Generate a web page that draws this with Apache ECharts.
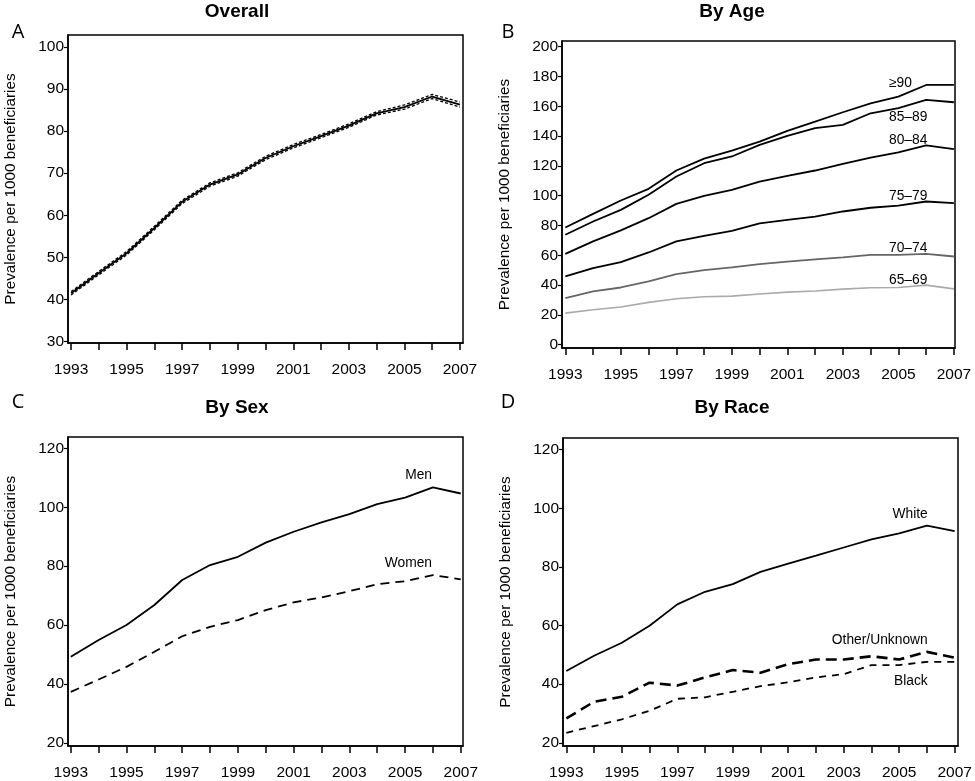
<!DOCTYPE html>
<html>
<head>
<meta charset="utf-8">
<script src="https://cdn.jsdelivr.net/npm/echarts@6/dist/echarts.min.js"></script>
<style>
html,body{margin:0;padding:0;background:#fff;}
#chart{width:975px;height:781px;}
</style>
</head>
<body>
<div id="chart"></div>
<script>
// ---------------- DATA ----------------
var years = [1993,1994,1995,1996,1997,1998,1999,2000,2001,2002,2003,2004,2005,2006,2007];
var xTickYears = [1993,1994,1995,1996,1997,1998,1999,2000,2001,2002,2003,2004,2005,2006,2007];
var xLabelYears = [1993,1995,1997,1999,2001,2003,2005,2007];

// Panel A: overall with confidence bounds
var overall      = [41.5, 46.3, 51.0, 57.0, 63.2, 67.3, 69.7, 73.6, 76.4, 78.8, 81.3, 84.2, 85.7, 88.2, 86.3];
var overallUpper = [41.9, 46.7, 51.4, 57.4, 63.6, 67.7, 70.1, 74.0, 76.8, 79.2, 81.7, 84.6, 86.2, 88.7, 86.9];
var overallLower = [41.1, 45.9, 50.6, 56.6, 62.8, 66.9, 69.3, 73.2, 76.0, 78.4, 80.9, 83.8, 85.2, 87.7, 85.7];
var ticksA = [30,40,50,60,70,80,90,100];

// Panel B: by age
var age90   = [78.7, 87.8, 96.8, 104.6, 116.9, 124.9, 130.3, 136.3, 143.5, 149.7, 156.0, 162.0, 166.5, 174.3, 174.3];
var age8589 = [73.8, 82.7, 90.5, 100.6, 112.9, 121.8, 126.3, 134.1, 140.1, 145.3, 147.5, 155.3, 158.7, 164.3, 162.7];
var age8084 = [61.0, 69.3, 76.7, 84.9, 94.5, 99.9, 103.9, 109.5, 113.3, 116.9, 121.4, 125.6, 129.0, 133.7, 131.2];
var age7579 = [45.8, 51.4, 55.4, 61.9, 69.3, 73.1, 76.4, 81.4, 83.8, 86.0, 89.4, 91.9, 93.4, 96.1, 95.0];
var age7074 = [31.3, 35.8, 38.4, 42.5, 47.4, 50.1, 51.9, 54.1, 55.7, 57.2, 58.6, 60.3, 60.3, 61.0, 59.2];
var age6569 = [21.2, 23.5, 25.3, 28.4, 30.8, 32.2, 32.6, 34.0, 35.3, 36.0, 37.3, 38.2, 38.4, 40.0, 37.5];
var ticksB = [0,20,40,60,80,100,120,140,160,180,200];
var ageLabels = ['\u226590','85\u201389','80\u201384','75\u201379','70\u201374','65\u201369'];

// Panel C: by sex
var men   = [49.2, 54.9, 60.0, 66.8, 75.3, 80.4, 83.2, 88.0, 91.7, 94.9, 97.7, 101.1, 103.3, 106.8, 104.7];
var women = [37.3, 41.5, 45.8, 50.9, 56.2, 59.4, 61.7, 65.1, 67.7, 69.4, 71.5, 73.9, 74.9, 77.0, 75.5];
var ticksCD = [20,40,60,80,100,120];

// Panel D: by race
var white = [44.5, 49.7, 54.1, 59.9, 67.2, 71.5, 74.1, 78.3, 81.1, 83.8, 86.6, 89.4, 91.4, 94.1, 92.2];
var other = [28.3, 34.0, 35.7, 40.5, 39.5, 42.3, 44.8, 43.9, 46.8, 48.4, 48.4, 49.5, 48.4, 51.0, 49.0];
var black = [23.4, 25.7, 28.0, 30.9, 35.0, 35.5, 37.4, 39.3, 40.6, 42.3, 43.4, 46.5, 46.5, 47.6, 47.6];

// ---------------- CHART ----------------
function pairs(vals){ return years.map(function(y,i){ return [y, vals[i]]; }); }

var FONT = '"Liberation Sans", Arial, sans-serif';
var AXNAME = 'Prevalence per 1000 beneficiaries';

function xAxisFor(gi, mn, mx){
  return {
    type:'value', gridIndex:gi, min:mn, max:mx,
    axisLine:{show:true, onZero:false, lineStyle:{color:'#000', width:1.5}},
    axisTick:{show:true, length:7, lineStyle:{color:'#000', width:1.5}, customValues:xTickYears},
    axisLabel:{color:'#000', fontSize:15.5, fontFamily:FONT, margin:19, customValues:xLabelYears,
      formatter:function(v){ return String(Math.round(v)); }},
    splitLine:{show:false}
  };
}
function yAxisFor(gi, mn, mx, ticks){
  return {
    type:'value', gridIndex:gi, min:mn, max:mx,
    name:AXNAME, nameLocation:'middle', nameGap:50,
    nameTextStyle:{color:'#000', fontSize:15.3, fontFamily:FONT},
    axisLine:{show:true, onZero:false, lineStyle:{color:'#000', width:1.5}},
    axisTick:{show:true, length:4, lineStyle:{color:'#000', width:1.2}, customValues:ticks},
    axisLabel:{color:'#000', fontSize:15.5, fontFamily:FONT, margin:4, customValues:ticks,
      formatter:function(v){ return String(Math.round(v)); }},
    splitLine:{show:false}
  };
}
function line(gi, vals, opts){
  return {
    type:'line', xAxisIndex:gi, yAxisIndex:gi, data:pairs(vals),
    showSymbol:false, symbol:'none', silent:true, animation:false,
    lineStyle:{color:opts.color||'#000', width:opts.width||1.6, type:opts.type||'solid'},
    z: opts.z || 2
  };
}

var grids = [
  {left:68,  top:35,  width:395, height:308},
  {left:562, top:41,  width:393, height:307},
  {left:68,  top:437, width:395, height:309},
  {left:563, top:438, width:395, height:308}
].map(function(g){ g.show=true; g.borderColor='#000'; g.borderWidth=1.5; g.backgroundColor='transparent'; g.containLabel=false; return g; });

function ttl(text, x, y, size, bold, family){
  return {text:text, left:x, top:y, textAlign:'center',
    textStyle:{fontSize:size, fontWeight:bold?'bold':'normal', color:'#000', fontFamily:family||FONT}, padding:0};
}

function lbl(text, x, y, align){
  return {type:'text', x:x, y:y, silent:true,
    style:{text:text, fill:'#000', font:'13.8px ' + FONT, textAlign:align||'left', textVerticalAlign:'middle'}};
}

var LETTER = '"Open Sans", sans-serif';
var option = {
  backgroundColor:'#fff',
  animation:false,
  title:[
    ttl('Overall', 237, 2, 19, true),
    ttl('By Age', 732, 2, 19, true),
    ttl('By Sex', 237, 398, 19, true),
    ttl('By Race', 732, 398, 19, true),
    ttl('A', 18, 22, 20, false, LETTER),
    ttl('B', 508, 22, 20, false, LETTER),
    ttl('C', 18, 392, 20, false, LETTER),
    ttl('D', 508, 392, 20, false, LETTER)
  ],
  grid:grids,
  xAxis:[
    xAxisFor(0, 1992.89, 2007.11),
    xAxisFor(1, 1992.88, 2007.04),
    xAxisFor(2, 1992.90, 2007.08),
    xAxisFor(3, 1992.88, 2007.12)
  ],
  yAxis:[
    yAxisFor(0, 29.7, 102.8, ticksA),
    yAxisFor(1, -2.2, 203.8, ticksB),
    yAxisFor(2, 18.9, 123.9, ticksCD),
    yAxisFor(3, 18.9, 123.95, ticksCD)
  ],
  series:[
    line(0, overallUpper, {width:1.3, type:[3,2]}),
    line(0, overallLower, {width:1.3, type:[3,2]}),
    line(0, overall, {width:1.8, z:3}),

    line(1, age90,   {width:1.8}),
    line(1, age8589, {width:1.8}),
    line(1, age8084, {width:1.8}),
    line(1, age7579, {width:1.8}),
    line(1, age7074, {width:1.8, color:'#666'}),
    line(1, age6569, {width:1.6, color:'#aaa'}),

    line(2, men,   {width:1.8}),
    line(2, women, {width:1.8, type:[9,6]}),

    line(3, white, {width:1.8}),
    line(3, other, {width:2.6, type:[11,6]}),
    line(3, black, {width:1.8, type:[7,6]})
  ],
  graphic:[
    lbl(ageLabels[0], 889, 83.3),
    lbl(ageLabels[1], 889, 117.3),
    lbl(ageLabels[2], 889, 140),
    lbl(ageLabels[3], 889, 196),
    lbl(ageLabels[4], 889, 248.3),
    lbl(ageLabels[5], 889, 280),
    lbl('Men', 432, 475, 'right'),
    lbl('Women', 432, 563.3, 'right'),
    lbl('White', 927.7, 514, 'right'),
    lbl('Other/Unknown', 927.7, 640, 'right'),
    lbl('Black', 927.7, 680.7, 'right')
  ]
};

var chart = echarts.init(document.getElementById('chart'), null, {renderer:'canvas'});
chart.setOption(option);
</script>
</body>
</html>
